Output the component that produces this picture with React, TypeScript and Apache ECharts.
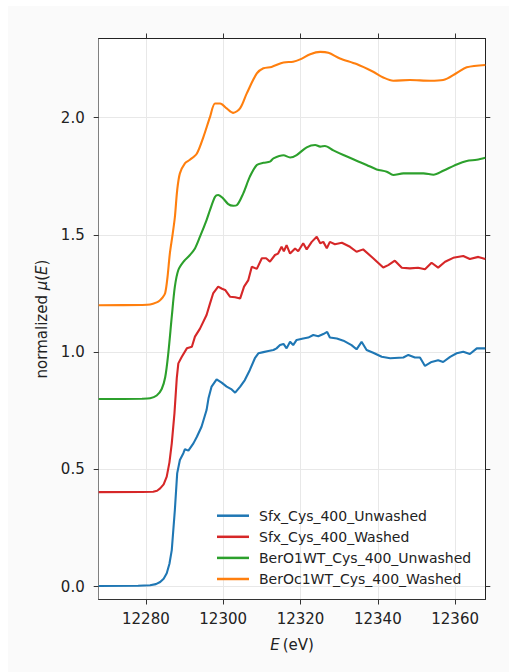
import React, { useEffect, useRef } from "react";
import * as echarts from "echarts";

// Tick values
const xTicks = [12280, 12300, 12320, 12340, 12360];
const yTicks = [0.0, 0.5, 1.0, 1.5, 2.0];

// Sfx_Cys_400_Unwashed
const sfxUnwashedE = [12267.8, 12278.0, 12281.1, 12282.6, 12283.7, 12284.6, 12285.4, 12286.1, 12286.7, 12287.5, 12288.1, 12288.8, 12289.7, 12290.1, 12291.0, 12292.3, 12293.2, 12294.4, 12295.7, 12296.2, 12297.0, 12298.3, 12299.6, 12300.9, 12302.2, 12303.1, 12304.4, 12305.6, 12306.9, 12308.2, 12309.1, 12310.4, 12311.7, 12313.0, 12313.8, 12314.7, 12315.6, 12316.4, 12317.3, 12318.1, 12319.0, 12320.7, 12322.0, 12323.3, 12324.6, 12325.9, 12326.9, 12327.6, 12329.4, 12331.1, 12333.2, 12334.5, 12335.8, 12337.1, 12338.8, 12341.0, 12343.2, 12346.6, 12347.9, 12349.6, 12350.9, 12352.2, 12353.9, 12355.6, 12356.9, 12358.7, 12360.4, 12362.1, 12363.8, 12365.6, 12367.8];
const sfxUnwashedMu = [0.003, 0.004, 0.006, 0.011, 0.02, 0.034, 0.057, 0.098, 0.156, 0.327, 0.483, 0.54, 0.569, 0.586, 0.58, 0.611, 0.639, 0.682, 0.753, 0.803, 0.853, 0.884, 0.87, 0.853, 0.841, 0.827, 0.853, 0.881, 0.924, 0.974, 0.995, 1.0, 1.005, 1.009, 1.016, 1.03, 1.035, 1.016, 1.044, 1.03, 1.052, 1.058, 1.062, 1.073, 1.068, 1.077, 1.086, 1.062, 1.058, 1.049, 1.03, 1.012, 1.044, 1.009, 0.997, 0.98, 0.974, 0.977, 0.988, 0.977, 0.977, 0.941, 0.958, 0.965, 0.958, 0.98, 0.995, 1.002, 0.992, 1.016, 1.016];

// Sfx_Cys_400_Washed
const sfxWashedE = [12267.8, 12279.0, 12281.9, 12282.9, 12283.7, 12284.6, 12285.4, 12286.1, 12286.7, 12287.4, 12288.0, 12288.4, 12289.3, 12290.6, 12291.9, 12292.7, 12294.0, 12295.7, 12296.6, 12297.4, 12298.7, 12299.7, 12300.5, 12301.8, 12303.1, 12304.4, 12305.4, 12306.5, 12307.4, 12308.7, 12310.0, 12311.1, 12312.1, 12313.4, 12314.2, 12315.1, 12315.7, 12316.4, 12317.3, 12318.6, 12319.4, 12320.7, 12321.6, 12322.9, 12324.2, 12325.1, 12325.9, 12326.8, 12327.6, 12328.9, 12330.7, 12332.8, 12334.5, 12336.2, 12338.8, 12341.4, 12342.7, 12344.4, 12346.2, 12348.3, 12350.4, 12352.2, 12353.9, 12355.6, 12357.4, 12359.5, 12362.1, 12363.8, 12366.0, 12367.8];
const sfxWashedMu = [0.403, 0.404, 0.405, 0.409, 0.419, 0.436, 0.469, 0.53, 0.611, 0.74, 0.89, 0.952, 0.98, 1.016, 1.023, 1.066, 1.1, 1.158, 1.208, 1.25, 1.279, 1.27, 1.265, 1.236, 1.234, 1.229, 1.279, 1.307, 1.364, 1.355, 1.4, 1.4, 1.386, 1.414, 1.42, 1.449, 1.43, 1.456, 1.42, 1.442, 1.43, 1.464, 1.438, 1.47, 1.492, 1.464, 1.47, 1.443, 1.47, 1.46, 1.466, 1.449, 1.428, 1.438, 1.4, 1.361, 1.371, 1.39, 1.36, 1.357, 1.36, 1.353, 1.381, 1.36, 1.385, 1.402, 1.41, 1.397, 1.406, 1.397];

// BerO1WT_Cys_400_Unwashed
const berUnwashedE = [12267.8, 12279.0, 12281.1, 12282.8, 12284.1, 12285.0, 12285.8, 12286.7, 12287.5, 12288.4, 12289.7, 12291.4, 12292.7, 12294.0, 12295.7, 12296.6, 12297.9, 12298.7, 12300.0, 12301.3, 12302.6, 12303.5, 12305.2, 12306.9, 12308.7, 12310.4, 12312.1, 12313.0, 12315.6, 12317.3, 12319.0, 12321.6, 12323.8, 12325.1, 12326.3, 12328.5, 12331.1, 12334.5, 12337.1, 12339.7, 12342.3, 12344.0, 12346.6, 12351.8, 12354.4, 12356.9, 12360.4, 12363.0, 12365.6, 12367.8];
const berUnwashedMu = [0.8, 0.801, 0.803, 0.815, 0.843, 0.893, 0.995, 1.151, 1.279, 1.35, 1.385, 1.414, 1.442, 1.492, 1.563, 1.606, 1.662, 1.67, 1.655, 1.631, 1.624, 1.626, 1.677, 1.748, 1.798, 1.807, 1.812, 1.826, 1.839, 1.83, 1.84, 1.873, 1.883, 1.876, 1.879, 1.86, 1.84, 1.816, 1.798, 1.779, 1.769, 1.755, 1.762, 1.762, 1.756, 1.773, 1.8, 1.815, 1.82, 1.829];

// BerOc1WT_Cys_400_Washed
const berWashedE = [12267.8, 12279.0, 12281.1, 12282.8, 12283.6, 12284.3, 12285.0, 12285.6, 12286.2, 12286.9, 12287.5, 12288.1, 12288.8, 12290.1, 12291.4, 12293.2, 12294.9, 12296.6, 12297.9, 12299.2, 12300.9, 12302.6, 12304.4, 12306.1, 12308.7, 12310.4, 12312.5, 12315.6, 12318.1, 12319.9, 12322.5, 12325.1, 12327.2, 12330.2, 12334.5, 12338.8, 12341.4, 12344.0, 12348.3, 12353.5, 12356.9, 12360.4, 12363.0, 12367.8];
const berWashedMu = [1.2, 1.201, 1.203, 1.212, 1.22, 1.232, 1.252, 1.32, 1.42, 1.5, 1.575, 1.69, 1.762, 1.805, 1.82, 1.847, 1.918, 2.003, 2.06, 2.06, 2.039, 2.02, 2.04, 2.103, 2.188, 2.21, 2.216, 2.235, 2.238, 2.248, 2.27, 2.28, 2.276, 2.252, 2.228, 2.195, 2.171, 2.157, 2.16, 2.157, 2.16, 2.19, 2.214, 2.224];

const seriesNames = [
  "Sfx_Cys_400_Unwashed",
  "Sfx_Cys_400_Washed",
  "BerO1WT_Cys_400_Unwashed",
  "BerOc1WT_Cys_400_Washed",
];
const seriesColors = ["#1f77b4", "#d62728", "#2ca02c", "#ff7f0e"];

const pairs = (xs: number[], ys: number[]) => {
  const n = Math.min(xs.length, ys.length);
  const out: number[][] = [];
  for (let i = 0; i < n; i++) out.push([xs[i], ys[i]]);
  return out;
};

const FONT = "DejaVu Sans";

export default function App() {
  const ref = useRef<HTMLDivElement>(null);
  useEffect(() => {
    if (!ref.current) return;
    const chart = echarts.init(ref.current, undefined, { renderer: "svg" });
    const datasets = [
      pairs(sfxUnwashedE, sfxUnwashedMu),
      pairs(sfxWashedE, sfxWashedMu),
      pairs(berUnwashedE, berUnwashedMu),
      pairs(berWashedE, berWashedMu),
    ];
    const smooths = [false, false, 0.3, 0.3];
    const xMin = 12267.8, xMax = 12367.8, yMin = -0.0546, yMax = 2.337;
    const tick = { show: true, inside: false, length: 5, lineStyle: { color: "#333", width: 1 } };
    const option: any = {
      animation: false,
      backgroundColor: "#fafafa",
      grid: {
        left: 90.7, top: 32.5, width: 386.6, height: 561,
        show: true, backgroundColor: "#ffffff", borderWidth: 0,
      },
      legend: {
        orient: "vertical",
        left: 209,
        top: 502.7,
        padding: 0,
        itemWidth: 32,
        itemHeight: 2.5,
        itemGap: 7.1,
        icon: "rect",
        data: seriesNames,
        textStyle: { fontFamily: FONT, fontSize: 14, color: "#222", lineHeight: 14, padding: [0, 0, 0, 5] },
      },
      xAxis: [
        {
          type: "value", min: xMin, max: xMax, position: "bottom",
          axisLine: { show: true, onZero: false, lineStyle: { color: "#333", width: 1 } },
          axisTick: { ...tick, customValues: xTicks },
          axisLabel: { customValues: xTicks, margin: 12, fontFamily: FONT, fontSize: 15, color: "#222", formatter: (v: number) => String(Math.round(v)) },
          splitLine: { show: true, lineStyle: { color: "#e8e8e8", width: 1 } },
          name: "{it|E}\u2009(eV)",
          nameLocation: "middle",
          nameGap: 38,
          nameTextStyle: { fontFamily: FONT, fontSize: 15, color: "#222", rich: { it: { fontFamily: FONT, fontSize: 15, fontStyle: "italic", color: "#222" } } },
        },
        {
          type: "value", min: xMin, max: xMax, position: "top",
          axisLine: { show: true, onZero: false, lineStyle: { color: "#222", width: 1 } },
          axisTick: { ...tick, customValues: xTicks },
          axisLabel: { show: false },
          splitLine: { show: false },
        },
      ],
      yAxis: [
        {
          type: "value", min: yMin, max: yMax, position: "left",
          axisLine: { show: true, onZero: false, lineStyle: { color: "#808080", width: 1 } },
          axisTick: { ...tick, customValues: yTicks },
          axisLabel: { customValues: yTicks, margin: 14, fontFamily: FONT, fontSize: 15, color: "#222", formatter: (v: number) => v.toFixed(1) },
          splitLine: { show: true, lineStyle: { color: "#e8e8e8", width: 1 } },
          name: "normalized {it|\u03bc}({it|E})",
          nameLocation: "middle",
          nameGap: 48,
          nameRotate: 90,
          nameTextStyle: { fontFamily: FONT, fontSize: 15, color: "#222", rich: { it: { fontFamily: FONT, fontSize: 15, fontStyle: "italic", color: "#222" } } },
        },
        {
          type: "value", min: yMin, max: yMax, position: "right",
          axisLine: { show: true, onZero: false, lineStyle: { color: "#222", width: 1 } },
          axisTick: { ...tick, customValues: yTicks },
          axisLabel: { show: false },
          splitLine: { show: false },
        },
      ],
      series: seriesNames.map((name, i) => ({
        name,
        type: "line",
        xAxisIndex: 0,
        yAxisIndex: 0,
        data: datasets[i],
        showSymbol: false,
        symbol: "none",
        smooth: smooths[i],
        lineStyle: { color: seriesColors[i], width: 2.1 },
        itemStyle: { color: seriesColors[i] },
        z: 2 + i,
      })),
    };
    chart.setOption(option);
    return () => chart.dispose();
  }, []);
  return (
    <div
      ref={ref}
      style={{ position: "fixed", left: 8, top: 6, width: 501, height: 666 }}
    />
  );
}
